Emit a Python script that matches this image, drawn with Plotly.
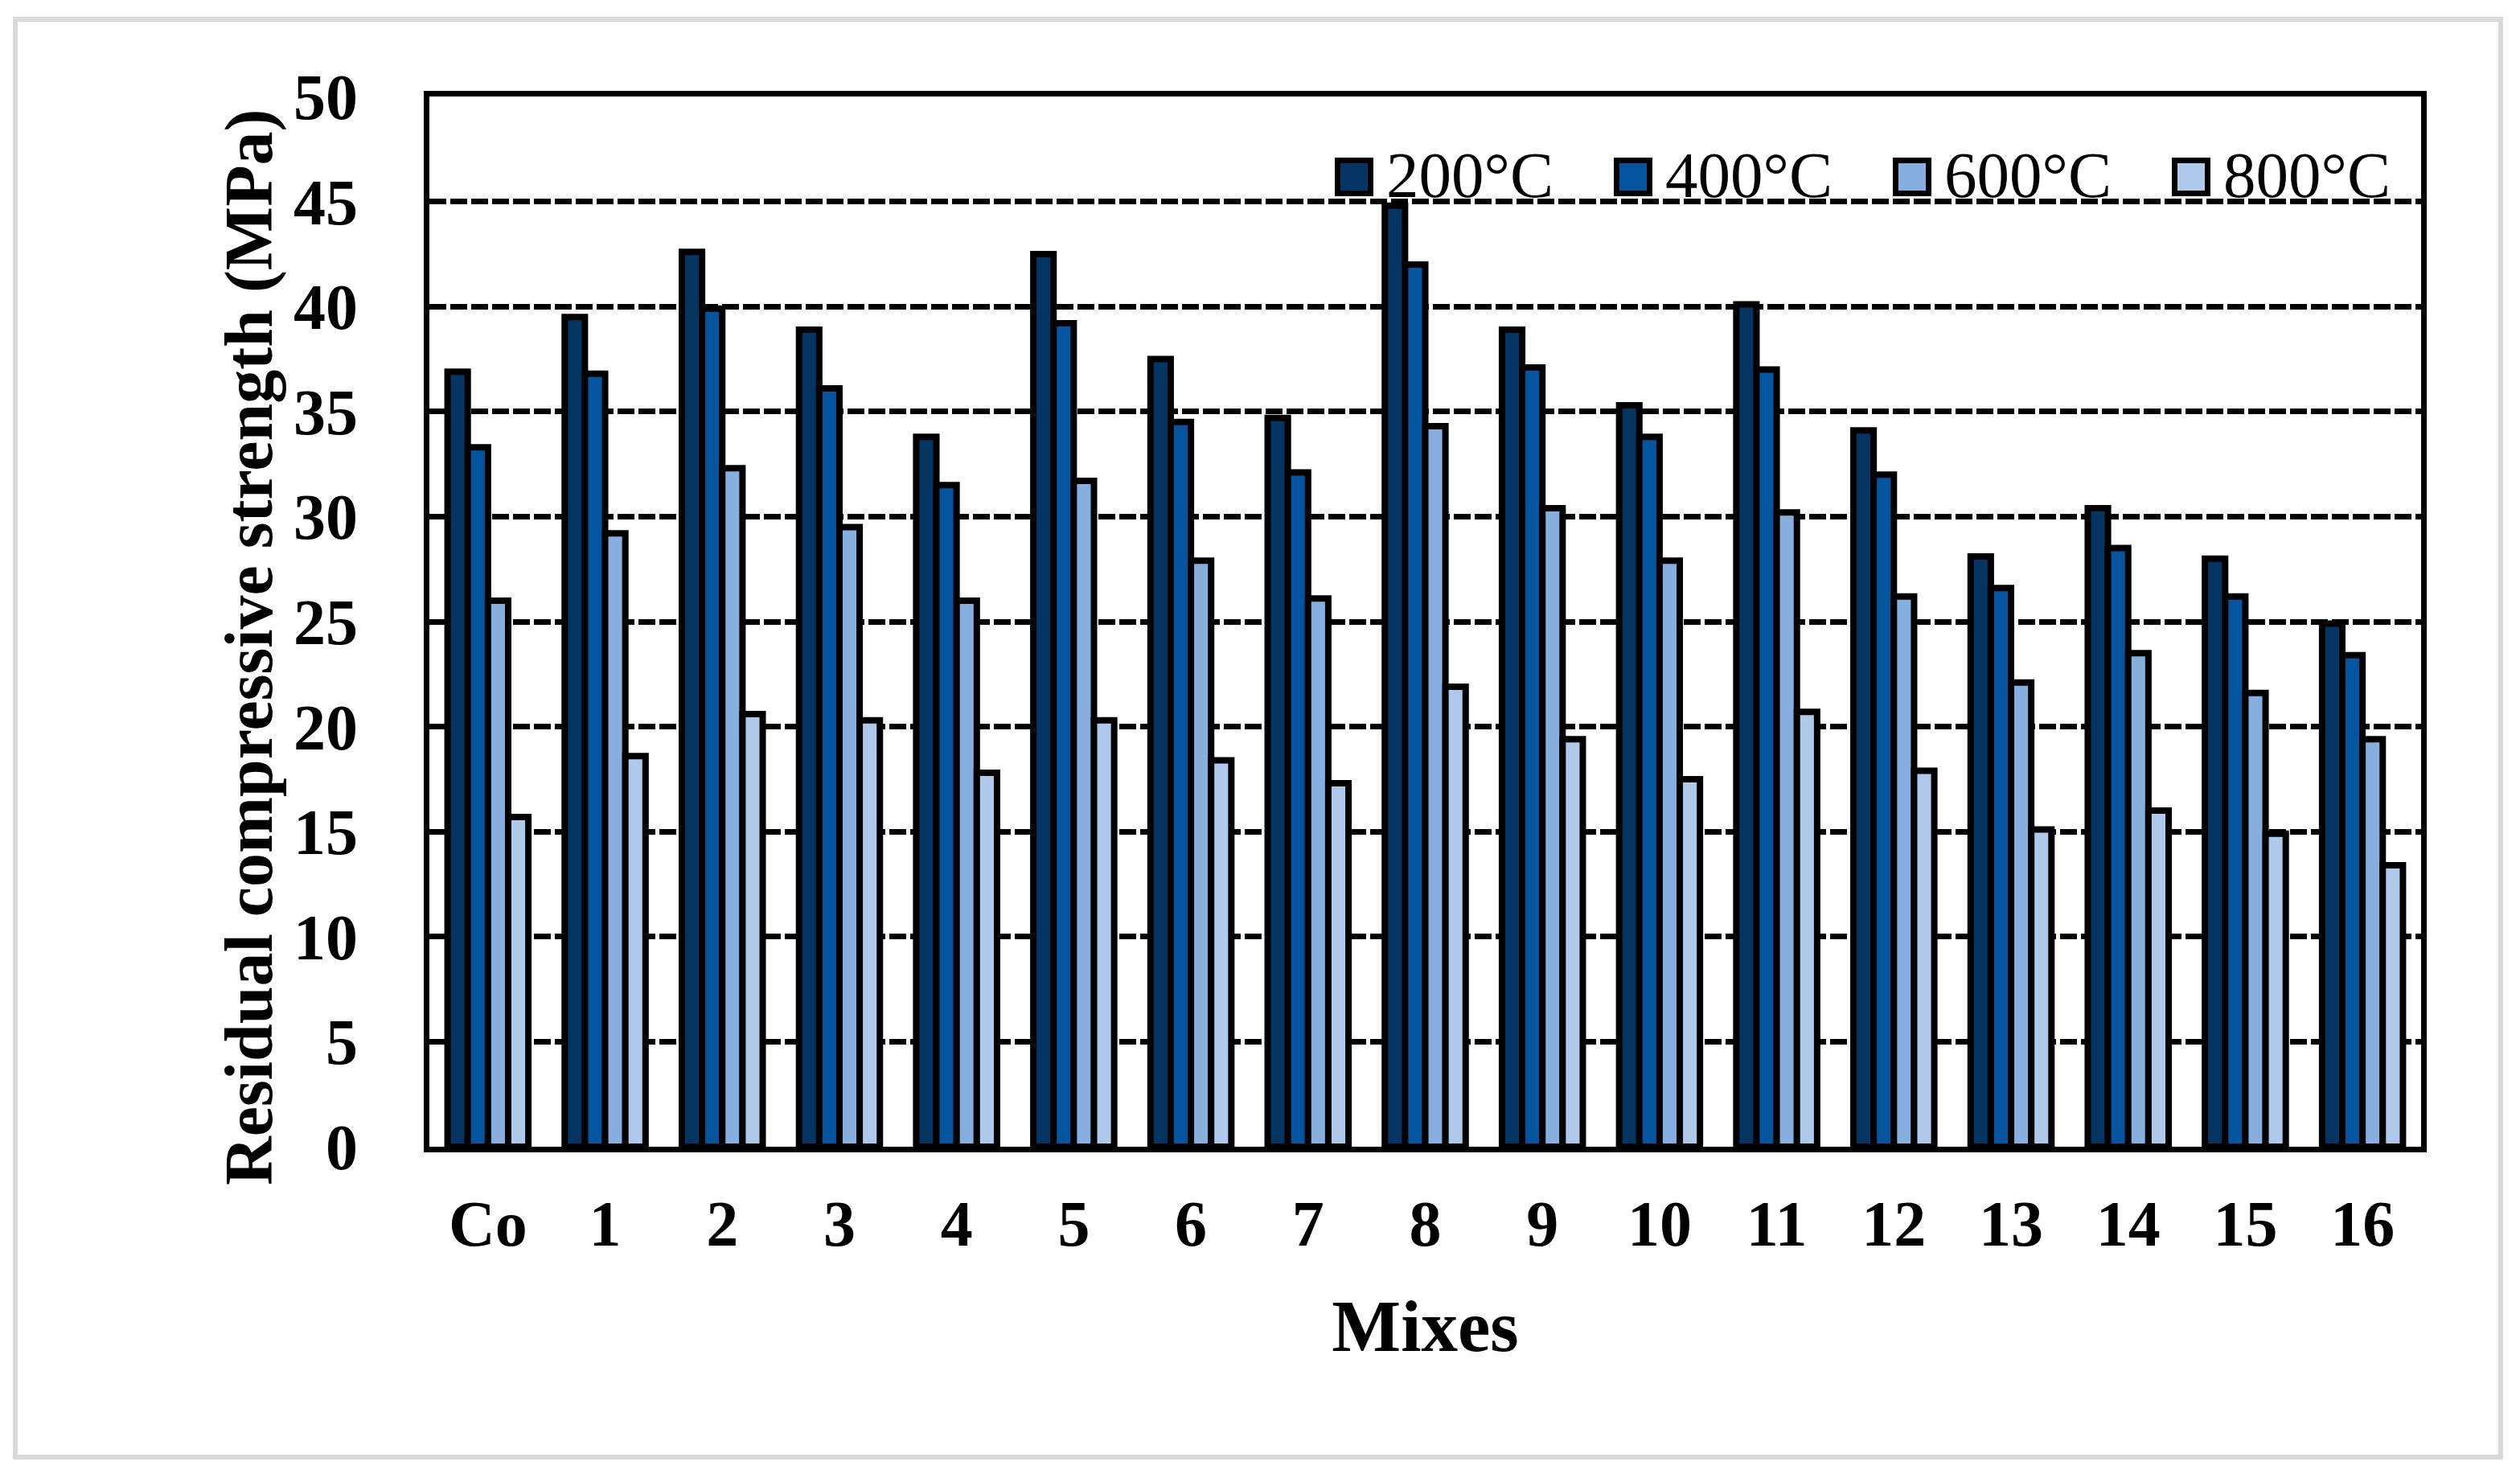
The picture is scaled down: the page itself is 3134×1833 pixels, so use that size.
import plotly.graph_objects as go

mixes = ["Co", "1", "2", "3", "4", "5", "6", "7", "8", "9", "10", "11", "12", "13", "14", "15", "16"]
s200 = [36.9, 39.5, 42.6, 38.9, 33.8, 42.5, 37.5, 34.7, 44.8, 38.9, 35.3, 40.1, 34.1, 28.1, 30.4, 28.0, 24.9]
s400 = [33.3, 36.8, 39.9, 36.1, 31.5, 39.2, 34.5, 32.1, 42.0, 37.1, 33.8, 37.0, 32.0, 26.6, 28.5, 26.2, 23.4]
s600 = [26.0, 29.2, 32.3, 29.5, 26.0, 31.7, 27.9, 26.1, 34.3, 30.4, 27.9, 30.2, 26.2, 22.1, 23.5, 21.6, 19.4]
s800 = [15.7, 18.6, 20.6, 20.3, 17.8, 20.3, 18.4, 17.3, 21.9, 19.4, 17.5, 20.7, 17.9, 15.1, 16.0, 14.9, 13.4]
series_names = ["200°C", "400°C", "600°C", "800°C"]
colors = ["#033462", "#02559e", "#86afe0", "#aec9ea"]

# the page body has an 8px default margin; figure is sized/offset to compensate
OFF = 8
W, H = 3134 - OFF, 1833 - OFF
ml, mt = 534 - OFF, 120 - OFF
mr = W - (3011 - OFF)
mb = H - (1426 - OFF)
PW, PH = W - ml - mr, H - mt - mb


def px(x):  # screen px -> paper
    return (x - OFF - ml) / PW


def py(y):
    return 1 - (y - OFF - mt) / PH


fig = go.Figure()
for name, vals, c in zip(series_names, [s200, s400, s600, s800], colors):
    fig.add_trace(go.Bar(x=mixes, y=vals, name=name, showlegend=False,
                         marker=dict(color=c, line=dict(color="black", width=8))))

shapes = [dict(type="rect", xref="paper", yref="paper",
               x0=px(19), x1=px(3110), y0=py(1812), y1=py(24),
               line=dict(color="#d9d9d9", width=6), layer="below")]
annotations = []

# legend (boxes + text, matching the large swatches of the original)
leg_x0, leg_step, leg_y = 1660, 347, 220
for i, (name, c) in enumerate(zip(series_names, colors)):
    x0 = leg_x0 + i * leg_step
    shapes.append(dict(type="rect", xref="paper", yref="paper",
                       x0=px(x0 + 3.5), x1=px(x0 + 44.5), y0=py(leg_y + 20.5), y1=py(leg_y - 20.5),
                       fillcolor=c, line=dict(color="black", width=7), layer="above"))
    annotations.append(dict(text=name, xref="paper", yref="paper", x=px(x0 + 62), y=py(leg_y - 2),
                            xanchor="left", yanchor="middle", showarrow=False,
                            font=dict(size=81, family="Liberation Serif", color="black")))

annotations.append(dict(text="<b>Residual compressive strength (MPa)</b>", xref="paper", yref="paper",
                        x=px(310), y=py(805), xanchor="center", yanchor="middle", textangle=-90,
                        showarrow=False, font=dict(size=84, family="Liberation Serif", color="black")))

fig.update_layout(
    width=W, height=H,
    margin=dict(l=ml, r=mr, t=mt, b=mb),
    paper_bgcolor="white", plot_bgcolor="white",
    barmode="group", bargap=0.31, bargroupgap=0,
    font=dict(family="Liberation Serif", color="black"),
    showlegend=False,
    xaxis=dict(showline=True, linecolor="black", linewidth=7, mirror=True,
               tickfont=dict(size=80, family="Liberation Serif", weight="bold"),
               ticklabelstandoff=20,
               title=dict(text="<b>Mixes</b>", font=dict(size=91, family="Liberation Serif"), standoff=54)),
    yaxis=dict(range=[0, 50], dtick=5, showline=True, linecolor="black", linewidth=7, mirror=True,
               showgrid=True, gridcolor="black", gridwidth=7, griddash="21px,5px",
               zeroline=False,
               tickfont=dict(size=80, family="Liberation Serif", weight="bold"),
               ticklabelstandoff=66),
    shapes=shapes,
    annotations=annotations,
)

fig.write_html("out.html")
